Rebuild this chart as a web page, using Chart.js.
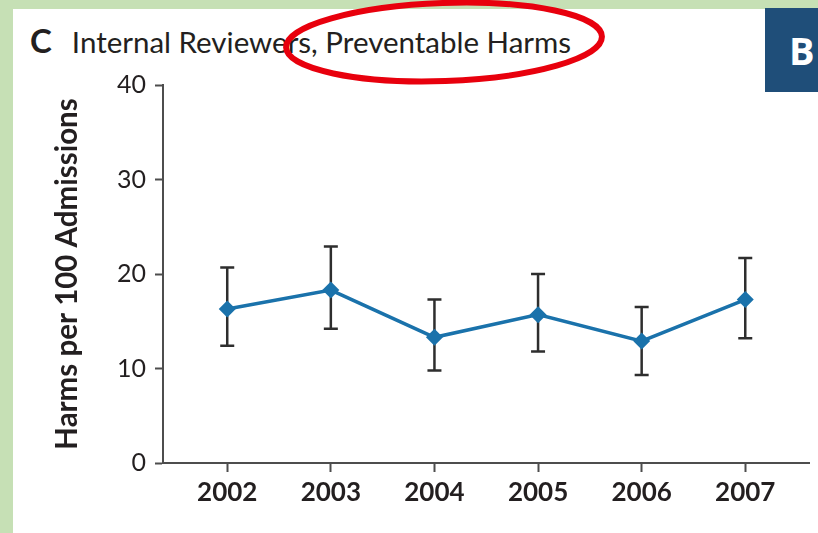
<!DOCTYPE html>
<html>
<head>
<meta charset="utf-8">
<script src="https://cdn.jsdelivr.net/npm/chart.js@4.4.1/dist/chart.umd.min.js"></script>
<style>
  html, body { margin: 0; padding: 0; }
  body { width: 818px; height: 533px; background: #c6e0b5; position: relative; overflow: hidden; font-family: Lato, "Noto Sans", sans-serif; }
  #panel { position: absolute; left: 13px; top: 9px; width: 805px; height: 524px; background: #fff; }
  #wrap { position: absolute; left: 0; top: 0; width: 818px; height: 533px; }
  #title { position: absolute; left: 30px; top: 22px; white-space: nowrap; color: #231f20; line-height: 36px; }
  #title .tag { font-weight: 700; font-size: 33px; margin-right: 20px; }
  #title .txt { font-size: 29.5px; }
  #badge { position: absolute; left: 765px; top: 8px; width: 53px; height: 84px; background: #1f4e79; color: #fff;
           font-family: "Open Sans", sans-serif; font-weight: 700; font-size: 38px; line-height: 84px; padding-left: 24px; box-sizing: border-box; }
  #ring { position: absolute; left: 0; top: 0; }
</style>
</head>
<body>
<div id="panel"></div>
<div id="title"><span class="tag">C</span><span class="txt">Internal Reviewers, Preventable Harms</span></div>
<div id="wrap"><canvas id="harmsChart" width="818" height="533"></canvas></div>
<svg id="ring" width="818" height="533">
  <ellipse cx="444" cy="42" rx="158" ry="39" fill="none" stroke="#e8000d" stroke-width="6" transform="rotate(-2 444 42)"/>
</svg>
<div id="badge">B</div>
<script>
const years = [2002, 2003, 2004, 2005, 2006, 2007];
const harms = [16.3, 18.3, 13.3, 15.7, 12.9, 17.3];
const upper = [20.7, 22.9, 17.3, 20.0, 16.5, 21.7];
const lower = [12.4, 14.2, 9.8, 11.8, 9.3, 13.2];
const yTicks = [0, 10, 20, 30, 40];

const ink = '#231f20';
const axisGray = '#4d4d4d';
const blue = '#1a72ab';
const fontFamily = 'Lato, "Noto Sans", sans-serif';

// vertical error bars with caps, drawn under the line
const errorBars = {
    id: 'errorBars',
    beforeDatasetsDraw(chart) {
        const { ctx, scales: { x, y } } = chart;
        ctx.save();
        ctx.strokeStyle = '#2e2e2e';
        ctx.lineWidth = 2.5;
        years.forEach((yr, i) => {
            const px = x.getPixelForValue(yr);
            const top = y.getPixelForValue(upper[i]);
            const bot = y.getPixelForValue(lower[i]);
            ctx.beginPath();
            ctx.moveTo(px, top); ctx.lineTo(px, bot);
            ctx.moveTo(px - 7, top); ctx.lineTo(px + 7, top);
            ctx.moveTo(px - 7, bot); ctx.lineTo(px + 7, bot);
            ctx.stroke();
        });
        ctx.restore();
    }
};

new Chart(document.getElementById('harmsChart').getContext('2d'), {
    type: 'line',
    data: {
        datasets: [{
            data: years.map((yr, i) => ({ x: yr, y: harms[i] })),
            borderColor: blue,
            backgroundColor: blue,
            borderWidth: 3.5,
            pointStyle: 'rectRot',
            pointRadius: 8.5,
            pointBorderWidth: 0,
            tension: 0
        }]
    },
    options: {
        responsive: false,
        animation: false,
        layout: { padding: { top: 85, right: 8, bottom: 0, left: 0 } },
        plugins: { legend: { display: false }, tooltip: { enabled: false } },
        scales: {
            x: {
                type: 'linear',
                min: 2001.38,
                max: 2007.62,
                afterBuildTicks: s => { s.ticks = years.map(v => ({ value: v })); },
                afterFit: s => { s.height = 70; },
                ticks: { color: ink, padding: 5, font: { family: fontFamily, size: 26, weight: 'bold' }, callback: v => String(v) },
                grid: { drawOnChartArea: false, drawTicks: true, tickLength: 9, tickColor: axisGray, tickWidth: 2 },
                border: { display: true, color: axisGray, width: 2 }
            },
            y: {
                min: 0,
                max: 40,
                afterBuildTicks: s => { s.ticks = yTicks.map(v => ({ value: v })); },
                afterFit: s => { s.width = 163; },
                ticks: { color: ink, padding: 9, font: { family: fontFamily, size: 25 } },
                grid: { drawOnChartArea: false, drawTicks: true, tickLength: 8, tickColor: axisGray, tickWidth: 2 },
                border: { display: true, color: axisGray, width: 2 },
                title: {
                    display: true,
                    text: 'Harms per 100 Admissions',
                    color: ink,
                    padding: { top: 50, bottom: 0 },
                    font: { family: fontFamily, size: 29.5, weight: 'bold' }
                }
            }
        }
    },
    plugins: [errorBars]
});
</script>
</body>
</html>
